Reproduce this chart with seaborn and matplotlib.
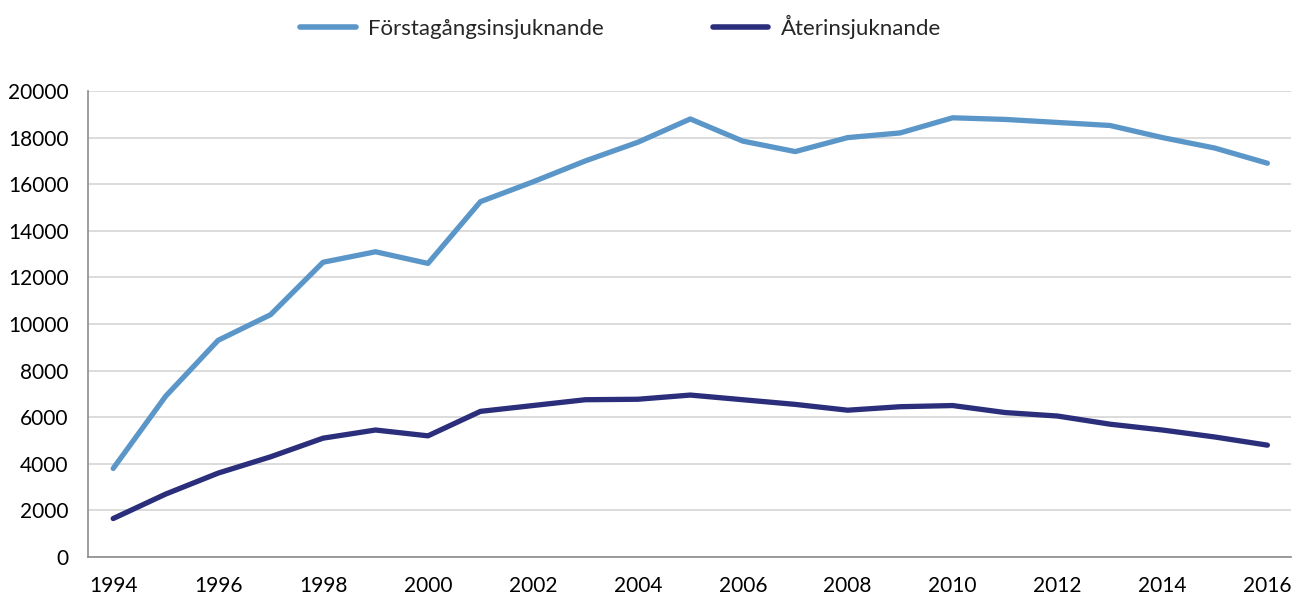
import pandas as pd
import matplotlib.pyplot as plt
import seaborn as sns
from matplotlib.ticker import FixedLocator

# Values
years = list(range(1994, 2017))
forsta = [3800, 6900, 9300, 10400, 12650, 13100, 12600, 15250, 16100, 17000, 17800,
          18800, 17850, 17400, 18000, 18200, 18850, 18780, 18650, 18520, 18000, 17550, 16900]
ater = [1650, 2700, 3600, 4300, 5100, 5450, 5200, 6250, 6500, 6750, 6770,
        6950, 6750, 6550, 6300, 6450, 6500, 6200, 6050, 5700, 5450, 5150, 4800]
series_names = ["Förstagångsinsjuknande", "Återinsjuknande"]
colors = ["#5B96C9", "#2B2E7B"]

df = pd.DataFrame({
    "year": years * 2,
    "value": forsta + ater,
    "serie": [series_names[0]] * len(years) + [series_names[1]] * len(years),
})

sns.set_style("white")
plt.rcParams['font.family'] = ['Lato', 'DejaVu Sans']

fig = plt.figure(figsize=(12.93, 6.02), dpi=100)
ax = fig.add_axes([88 / 1293, 1 - 557 / 602, (1291 - 88) / 1293, (557 - 91) / 602])

sns.lineplot(data=df, x="year", y="value", hue="serie", hue_order=series_names,
             palette=colors, linewidth=3.8, solid_capstyle="round", ax=ax, legend=False)

ax.set_xlim(1993.52, 2016.45)
ax.set_ylim(0, 20000)
ax.set_yticks(range(0, 20001, 2000))
ax.set_xticks(years[::2])
ax.xaxis.set_minor_locator(FixedLocator([y + 0.5 for y in range(1993, 2017)]))
ax.set_xlabel("")
ax.set_ylabel("")

ax.grid(axis="y", color="#D9D9D9", linewidth=1.3)
ax.set_axisbelow(True)
for s in ["top", "right"]:
    ax.spines[s].set_visible(False)
for s in ["left", "bottom"]:
    ax.spines[s].set_color("#8C8C8C")
    ax.spines[s].set_linewidth(1.2)

ax.tick_params(axis="x", which="major", length=0, pad=14, labelsize=15, labelcolor="black")
ax.tick_params(axis="x", which="minor", length=6, width=1.2, color="#8C8C8C", direction="out")
ax.tick_params(axis="y", length=5, width=1.2, color="#8C8C8C", pad=9, labelsize=15, labelcolor="black")

handles = [plt.Line2D([], [], color=c, linewidth=4, solid_capstyle="round") for c in colors]
fig.legend(handles, series_names, loc="center", bbox_to_anchor=(0.480, 0.955), ncol=2,
           frameon=False, fontsize=16, handlelength=2.5, handletextpad=0.55, columnspacing=4.9)

fig.savefig("out.png", dpi=100)
